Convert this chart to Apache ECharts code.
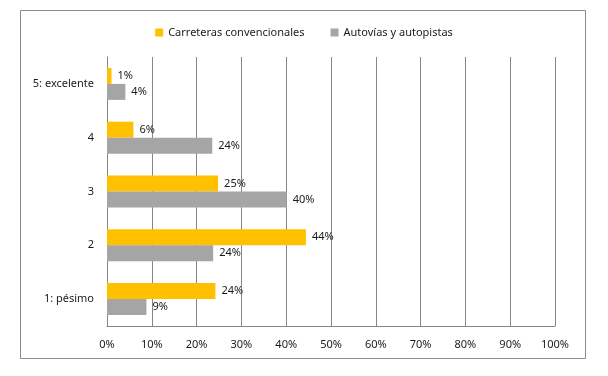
<!DOCTYPE html>
<html>
<head>
<meta charset="utf-8">
<script src="https://cdn.jsdelivr.net/npm/echarts@6/dist/echarts.min.js"></script>
<style>
  html, body { margin: 0; padding: 0; background: #fff; }
  #chart { width: 608px; height: 376px; }
</style>
</head>
<body>
<div id="chart"></div>
<script>
// valoraciones, de abajo (1) a arriba (5)
const categories = ['1: pésimo', '2', '3', '4', '5: excelente']
const convencionales = [24.2, 44.4, 24.8, 5.9, 1.0]
const autovias = [8.8, 23.7, 40.1, 23.5, 4.1]
const seriesNames = ['Carreteras convencionales', 'Autovías y autopistas']

const chart = echarts.init(document.getElementById('chart'))
const font = 'Noto Sans'
const textColor = '#1a1a1a'
const labelOpt = {
  show: true,
  position: 'right',
  distance: 6,
  color: textColor,
  fontFamily: font,
  fontSize: 11,
  formatter: (p) => Math.round(p.value) + '%'
}

chart.setOption({
  backgroundColor: '#fff',
  animation: false,
  graphic: [{
    type: 'rect',
    shape: { x: 20.5, y: 10.5, width: 565, height: 348 },
    style: { fill: 'none', stroke: '#8c8c8c', lineWidth: 1 },
    silent: true
  }],
  legend: {
    data: seriesNames,
    top: 22,
    left: 'center',
    itemWidth: 8,
    itemHeight: 8,
    itemGap: 26,
    icon: 'rect',
    textStyle: { fontFamily: font, fontSize: 11, color: textColor }
  },
  grid: { left: 107, right: 53, top: 57, bottom: 50, containLabel: false },
  xAxis: {
    type: 'value',
    min: 0,
    max: 100,
    interval: 10,
    axisLine: { show: true, lineStyle: { color: '#868686' } },
    axisTick: { show: false },
    axisLabel: { formatter: '{value}%', margin: 13, color: textColor, fontFamily: font, fontSize: 11 },
    splitLine: { show: true, lineStyle: { color: '#868686', width: 1 } }
  },
  yAxis: {
    type: 'category',
    data: categories,
    axisLine: { show: true, lineStyle: { color: '#868686' } },
    axisTick: { show: false },
    axisLabel: { margin: 13, color: textColor, fontFamily: font, fontSize: 11 }
  },
  series: [
    {
      name: seriesNames[0],
      type: 'bar',
      data: convencionales,
      barWidth: 16,
      barGap: '0%',
      itemStyle: { color: '#FFC000' },
      label: labelOpt
    },
    {
      name: seriesNames[1],
      type: 'bar',
      data: autovias,
      barWidth: 16,
      barGap: '0%',
      itemStyle: { color: '#A5A5A5' },
      label: labelOpt
    }
  ]
})
</script>
</body>
</html>
